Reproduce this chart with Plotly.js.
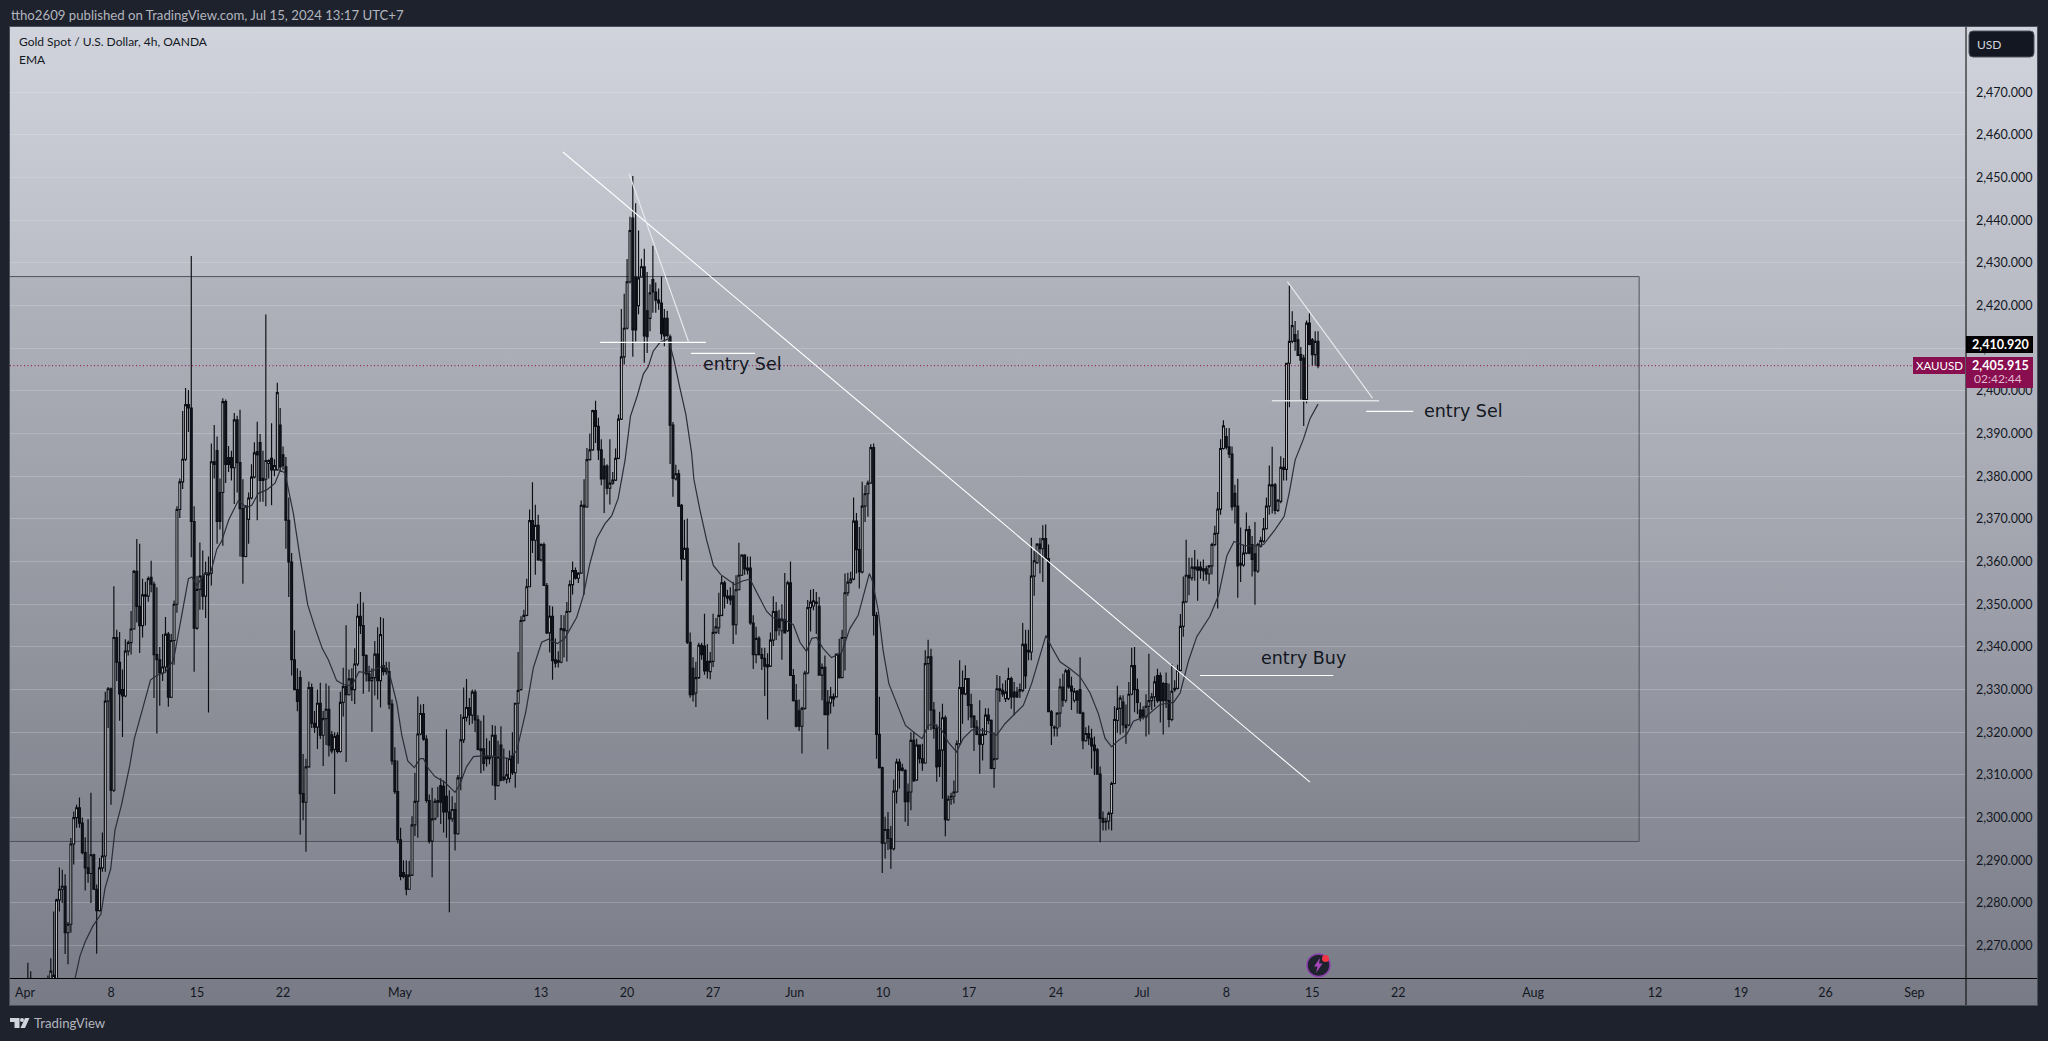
<!DOCTYPE html>
<html><head><meta charset="utf-8">
<script src="https://cdn.plot.ly/plotly-3.0.1.min.js"></script>
<style>
html,body{margin:0;padding:0;background:#1e222d;width:2048px;height:1041px;overflow:hidden}
#bg{position:absolute;left:10px;top:27px;width:2027px;height:978px;background:linear-gradient(180deg,#d1d4dc,#787b86);box-shadow:0 0 0 1px #4a4e5a}
#chart{position:absolute;left:0;top:0;width:2048px;height:1041px}
</style></head><body><div id="bg"></div><div id="chart"></div>
<script>
const opens=[2258,2257,2259,2256,2254,2257,2255,2257,2258,2260,
2260,2260,2280.7,2283.2,2283.9,2273,2275,2293.8,2300,2302.3,
2298.7,2291.8,2288.2,2286.9,2291.3,2283.2,2278.2,2288.2,2291,2327.3,
2330.2,2306.4,2342.2,2336.4,2330,2328.5,2339,2341,2344.2,2357.7,
2349.5,2345,2352.2,2351.9,2356.3,2354.7,2338.2,2337,2333.9,2335.3,
2343,2328.2,2341.5,2350,2372.2,2378.7,2384,2396.8,2396,2369.4,
2344.4,2353.5,2356.6,2351.9,2357.3,2357.3,2383.4,2386,2376.2,2376.2,
2397.5,2384.4,2384.4,2382,2393.2,2383.2,2372.4,2361.2,2369.9,2374.9,
2379.8,2385.8,2387.9,2379.5,2379.3,2383,2384.2,2381.5,2381.5,2392,
2385,2382.2,2369.7,2359.9,2337,2330,2332.8,2305.6,2303.6,2311.9,
2330.5,2322.1,2321.2,2326.8,2319.3,2323.2,2325.4,2319.4,2316,2319.3,
2315.5,2327,2330.7,2328.8,2332.5,2330,2336,2347.2,2345,2338,
2333.7,2332.1,2332.8,2338.3,2332.1,2335.6,2335,2334.2,2326.6,2313.3,
2306.1,2294.8,2287.1,2286.5,2283.2,2286.5,2298.3,2303.8,2319.6,2324.4,
2318.4,2304,2294.5,2299.7,2304,2307.5,2307.3,2305,2301.3,2299.7,
2301.9,2296.2,2309.3,2318.2,2323.5,2325.8,2324,2329.4,2322.9,2316.1,
2316.1,2314.5,2313.8,2314.2,2319.3,2307.5,2317,2309.5,2309,2309.2,
2314.5,2310.5,2326.8,2330,2346.2,2347.4,2354.1,2369.6,2365,2368.5,
2360.4,2364,2354.4,2343.3,2347.2,2337,2336.8,2336.4,2343.8,2343.8,
2348.3,2354.6,2357.9,2356.1,2357.3,2373.2,2372.8,2383.9,2386.2,2395.4,
2391.7,2386.2,2382.4,2382.4,2377.2,2378.4,2379.1,2384.2,2393.4,2408,
2414.7,2425.6,2440.5,2426.7,2420,2426.7,2429.1,2418.8,2417,2426.1,
2423.2,2421.3,2420.6,2417,2417,2412.7,2392,2379.4,2380.6,2373.2,
2360.6,2363.1,2341.1,2335,2329.2,2332.8,2340.4,2340.2,2336.6,2334.2,
2336.6,2343.4,2344.5,2347.4,2355,2351.9,2351.9,2351.9,2345.2,2353.4,
2356.8,2361.5,2358.5,2358.5,2345.6,2338.2,2342,2338.2,2337.3,2335.8,
2335.5,2341.6,2348.3,2346.4,2343.8,2346.4,2343.8,2355,2333.3,2327.4,
2325,2321.4,2325.6,2333.9,2349.2,2349.6,2350.5,2349.5,2333.4,2335.2,
2327.1,2326.9,2327.8,2328.3,2338.3,2332.8,2342.2,2352.7,2355.2,2355.9,
2369.5,2362.8,2357.6,2373,2375.9,2378.4,2386.7,2347.4,2319.5,2311.7,
2294,2297.2,2295.1,2292.7,2306.2,2313,2311.6,2311.1,2306,2306,
2318.1,2308.8,2317,2313.8,2312.8,2336.1,2337.7,2325.2,2320.9,2315.8,
2315.8,2323.4,2299.5,2304.3,2305,2306,2317.3,2330.5,2329,2332.6,
2326.5,2323.8,2321.2,2319.5,2317.2,2319.5,2324,2322.8,2311.5,2313.8,
2330.2,2329.8,2327.9,2327.9,2332.6,2329.4,2329.4,2329.6,2329.8,2340.6,
2339.2,2338.8,2356.6,2359.7,2364.1,2363,2365.4,2360.7,2324.8,2321,
2321,2324.5,2330.6,2327.5,2334.4,2330.8,2327.5,2329.6,2330,2324.5,
2318,2319.7,2318.6,2317,2315.9,2310.2,2299.8,2299,2299.2,2301,
2308,2322.8,2325.6,2327.1,2321.7,2321.7,2328.9,2335.6,2330,2325.2,
2325.2,2323.6,2326.1,2327.4,2328.3,2333.3,2333.3,2331.4,2331.4,2327.4,
2323,2330,2330.3,2334.5,2344.8,2350.6,2356.8,2356.2,2358.7,2358.7,
2358.7,2358.3,2358.3,2357.1,2359,2364,2366.6,2372.3,2386.5,2389.3,
2386.9,2385.2,2376,2373,2359.2,2359.2,2362,2367.5,2364,2361.8,
2357.8,2363.6,2364.8,2367.7,2373,2378,2378,2372,2374.1,2382.1,
2381.6,2406.5,2411.6,2413.2,2412,2408.5,2407.7,2398,2415.9,2412,
2408.5,2411.6];
const highs=[2261,2266,2264,2259,2260,2260,2261,2261,2263,2267,
2278,2281,2288.3,2287.8,2286.7,2275.5,2295.2,2301.4,2303,2304.7,
2300,2295.4,2299.6,2305.8,2291.5,2284.3,2290.5,2296.5,2329.5,2330.6,
2330.5,2354.2,2344,2343.5,2334.7,2341.8,2341.5,2348.4,2358,2365.3,
2364.2,2356,2355.3,2356.5,2360.2,2355.3,2354,2340,2343,2347,
2343.5,2343,2350.9,2373,2379.5,2395.3,2400.7,2400.2,2431.6,2373,
2356.6,2364.5,2362.6,2360,2361.2,2387.7,2392,2389.3,2379.5,2398.3,
2398,2387.1,2386,2394.8,2394.2,2395.6,2379.3,2373.2,2376.2,2382.8,
2388,2392.8,2389.9,2386,2417.9,2384,2392.4,2384,2401.9,2396,
2387,2384.5,2375,2362,2343.9,2335,2334.4,2314.9,2313.8,2331.9,
2331.4,2325,2330,2331.6,2325,2331.4,2330.9,2320.3,2320,2320,
2329.5,2335.1,2345.1,2334.7,2335,2339.7,2350.1,2352.9,2350.4,2338.3,
2335.6,2335,2341.4,2344.6,2347,2346.7,2336.5,2336.5,2327.7,2316.5,
2313.4,2297.6,2290,2290,2289.9,2300.3,2310.5,2328.4,2326.5,2326.6,
2319.3,2305.4,2307,2304.5,2307.2,2309.2,2308.7,2320.7,2306.4,2305,
2303.5,2310,2324.2,2330.5,2332.5,2328,2330,2330,2324,2322.7,
2324,2318.6,2318,2321.7,2321.5,2318,2321.4,2316.2,2314,2315.7,
2320,2326.8,2338.8,2347.2,2348.7,2356,2372.2,2378.6,2373.3,2371,
2364.3,2364.5,2355,2349.7,2349.5,2342,2339,2347.5,2347.4,2350.5,
2355.6,2360,2358.6,2357.5,2374.3,2379.3,2386.6,2390,2395.6,2397.7,
2393.7,2388.7,2384.2,2382.8,2388.7,2381,2386.5,2394.5,2419.2,2422.8,
2430.9,2440.8,2450.4,2444,2437.6,2431,2433.3,2427.9,2425,2434,
2425.4,2424,2426.8,2419.2,2418.8,2413.2,2392.7,2382.7,2381.5,2373.5,
2369.8,2370.1,2343.4,2337.6,2336.5,2341,2341,2347.8,2340.7,2338.8,
2347.8,2346.8,2352.7,2356.6,2355.5,2353.4,2354,2355.3,2356.8,2364.4,
2361.7,2361.7,2361.2,2361.2,2347.4,2344.7,2342.5,2339.8,2339.8,2338.5,
2343.4,2351.9,2350.5,2348.7,2350,2357.3,2355.5,2360,2334.8,2331.3,
2327.7,2326,2334.4,2351,2353.4,2353.6,2352.9,2351.7,2336.1,2338,
2329.9,2330.6,2329.1,2338.3,2341.9,2344,2357.2,2357.4,2357.6,2375,
2371.4,2368.1,2378.7,2377.9,2379,2387.5,2387.7,2348.2,2328.3,2311.9,
2300.2,2301.3,2298,2308.9,2313.8,2313.8,2312.6,2311.3,2308,2320,
2320,2318.5,2317,2317.3,2339.2,2341.7,2339.6,2327.1,2321.9,2324.8,
2326.7,2323.9,2305.2,2305.8,2308.7,2318.1,2336.9,2334.5,2335.7,2332.6,
2329,2324,2322.8,2327.5,2321,2325.6,2325.6,2323,2320,2333.4,
2333.2,2331.4,2332.2,2335.1,2333,2331.8,2330.6,2331.4,2345.6,2344,
2344,2365.6,2362.6,2364.3,2365.6,2368.5,2368.7,2364,2325.2,2321.6,
2324.7,2332.6,2333.7,2334.9,2334.9,2333,2330.4,2329.9,2337.6,2324.8,
2321.2,2321.6,2320.8,2319,2316.3,2312,2301.4,2300,2301.4,2308.4,
2326.1,2330.9,2328.7,2328.7,2326.5,2331.8,2339.8,2340,2332.6,2327,
2326.1,2328.9,2338.4,2329.2,2333.1,2334.9,2334,2331.8,2334,2331.4,
2336,2332.2,2335.8,2347.7,2356.5,2365.1,2360.9,2360.9,2362.7,2360.5,
2360,2360.5,2359,2359.2,2364.4,2368.4,2376.3,2388.7,2393.1,2391.3,
2391.3,2387,2378,2379.4,2368,2364,2371.5,2368.4,2366,2369.3,
2364.4,2365.8,2370.2,2375,2382.5,2386.9,2378.4,2374.6,2384.7,2384.3,
2406.5,2424.7,2418.7,2416.4,2414.2,2410.3,2408.5,2416.5,2418.2,2412.4,
2414,2414];
const lows=[2254,2255,2254,2252,2252,2253,2253,2255,2256,2258,
2258,2258,2278,2280,2268,2265.6,2273,2289,2297.6,2297.6,
2291.4,2282.9,2284.7,2280,2283,2268.1,2278,2287.3,2287.3,2321,
2303,2306,2332,2322.7,2318.9,2328.2,2338,2338.2,2344,2345.7,
2338.6,2342.2,2345,2350.6,2352.8,2328,2319.7,2326.2,2332,2334,
2326,2328,2335.8,2348,2370.2,2377,2383.6,2390.4,2361,2334.2,
2344,2348.7,2348.7,2346.8,2324.6,2354.4,2379.5,2364.2,2367.5,2363.7,
2378.4,2381,2379,2373.5,2376.2,2361.2,2354.8,2361,2364.2,2374.6,
2379.5,2369.7,2374,2374,2373,2379.5,2373.2,2380,2381.3,2381,
2381.5,2363,2351.7,2333.3,2330,2324.9,2296,2299.4,2292,2311.7,
2321,2319.8,2316.1,2318.4,2312.1,2317,2314.3,2315,2305.5,2315,
2315.2,2323.7,2313,2328.6,2327.3,2326.6,2335.5,2343,2329,2331.9,
2329.5,2320.1,2328.6,2327.7,2325.8,2333.3,2333.5,2325.4,2312.4,2305.5,
2293.9,2285.3,2285.8,2281.8,2283,2286.3,2295.7,2295.3,2319.3,2318,
2303.5,2293.9,2286,2299.4,2300,2298.5,2296.5,2295.3,2277.8,2299,
2292.3,2296,2306.4,2317.5,2322.5,2321.7,2322,2320,2315.8,2310.4,
2311,2312,2312.5,2307.5,2304.1,2307.3,2308.5,2308.5,2308,2308.2,
2310,2307,2312.6,2329.8,2345.9,2347.2,2354,2362,2356.9,2360.2,
2360,2354.3,2343,2338.7,2332.3,2335.2,2335.2,2336.2,2337.5,2336.6,
2348,2352.3,2355.8,2355,2357.2,2352.3,2372.6,2383.7,2386,2387.8,
2383.8,2377.9,2371.4,2375.7,2373.4,2378,2378.9,2384,2393.2,2406.2,
2414.4,2425.2,2408,2411.6,2418,2426.5,2406.6,2408.9,2414,2418.3,
2418.3,2419,2412,2410.5,2412.5,2382.9,2375.2,2379,2373,2355.5,
2360.4,2340.7,2328.1,2327.2,2325.9,2332.5,2337,2333.5,2332.6,2332.4,
2335.3,2343,2343,2347.2,2349,2350.1,2349.8,2340.7,2342.9,2353.2,
2356.6,2356.9,2357,2345.2,2334.8,2336.2,2338,2334.6,2328.5,2323,
2335.3,2340.2,2341.6,2342.7,2337,2343.3,2343.5,2333.3,2327.2,2321.2,
2320.3,2315,2325.3,2333.6,2343.6,2348.6,2343,2333.4,2327.5,2324.1,
2316,2324.4,2326,2328.3,2332.6,2332.8,2334.5,2352,2354.8,2355.6,
2357.2,2353.7,2357.2,2369.3,2370.5,2378.3,2342.7,2313.8,2311.5,2287,
2290.4,2292.4,2288,2292.3,2303.3,2306.8,2310.8,2299,2298,2301.7,
2308.4,2308.6,2312.7,2311,2312.6,2320.5,2320.5,2318.5,2308.4,2309.5,
2304.4,2295.6,2299.2,2303,2303.3,2305.8,2317,2322,2328.7,2322.8,
2321,2315.6,2319.3,2310.3,2313.4,2319.3,2321.9,2311.3,2307,2313.5,
2327.1,2328.3,2327.1,2327.5,2325.5,2324,2328,2328,2329.4,2330.2,
2336.9,2336.9,2352,2359.5,2357.2,2355.2,2360.5,2324.8,2317,2319,
2319,2321.2,2326,2327,2330.2,2325.2,2327,2324.4,2324.3,2316,
2317.8,2317,2311.5,2310,2310.2,2294.2,2297,2297,2297.2,2297,
2307.8,2319.9,2319.5,2319.9,2317.3,2321.4,2328.7,2324.7,2324.3,2322.6,
2323,2319,2319.5,2325.2,2325.9,2326.9,2322.3,2319.5,2325.7,2321.2,
2322.6,2329.5,2330,2334.3,2342.4,2350.3,2352.1,2355.5,2355.5,2350.8,
2356,2355.5,2355.5,2354.7,2357,2363.6,2349,2371,2386.3,2386.3,
2384.3,2372,2368.9,2351.5,2355.2,2358.8,2361.7,2361.7,2356.5,2349.9,
2357.3,2363.3,2364.5,2367.5,2371,2371.3,2371.1,2371.6,2373.7,2379,
2379,2396.2,2411.2,2409.4,2408.2,2398,2391.8,2397.1,2410.7,2405.9,
2405.9,2405.3];
const closes=[2256,2260,2256,2254,2257,2255,2258,2259,2261,2264,
2263,2280.7,2283.2,2283.9,2273,2275,2293.8,2300,2302.3,2298.7,
2291.8,2288.2,2286.9,2291.3,2283.2,2278.2,2288.2,2291,2327.3,2330.2,
2306.4,2342.2,2336.4,2329,2328.5,2339,2341,2344.2,2357.7,2349.5,
2345,2352.2,2351.9,2356,2354.7,2338.2,2337,2333.9,2335.3,2343,
2328.2,2341.5,2350,2372.2,2378.7,2384,2396.8,2396,2369.4,2344.4,
2353.5,2356.6,2351.9,2357.3,2356.9,2383.4,2382.8,2369.4,2369.4,2397.5,
2382.8,2382.8,2382,2393.2,2383.2,2372.4,2361.2,2373,2374.9,2379.8,
2385.5,2385,2379,2379,2383.7,2383.7,2381.5,2382.5,2399.6,2382.2,
2382.5,2369.7,2359.9,2337,2330,2327.2,2305.6,2303.6,2311.9,2330.5,
2322.1,2321.2,2326.8,2319.3,2323.2,2325.4,2317,2315.6,2319,2315.5,
2327,2330.7,2328.8,2332.5,2330,2336,2347.2,2345,2338,2333.7,
2332.1,2332.8,2338.3,2332.1,2342.9,2334.2,2334.2,2326.6,2313.3,2306.1,
2294.8,2286.2,2286.2,2283.2,2286.5,2298.3,2303.8,2319.6,2324.4,2318.4,
2304,2294.5,2299.7,2303.8,2303.6,2303.6,2301.3,2301.3,2299.7,2301.9,
2296.2,2309.3,2318.2,2323.5,2325.8,2324,2329.4,2322.9,2316,2315.7,
2312.7,2313.8,2314.2,2319.3,2307.5,2314.2,2308.7,2309,2310,2313.8,
2310.5,2326.8,2329.8,2346.2,2347.4,2354.1,2369.6,2365,2368.5,2360.4,
2364,2354.4,2343.3,2347.2,2336.8,2336.2,2336.4,2344.3,2344.2,2348.3,
2354.6,2357.9,2356.1,2357.3,2373.2,2372.8,2383.9,2386.2,2395.4,2391.7,
2386.2,2379.4,2379.4,2377.2,2378.4,2379.1,2384.2,2393.4,2408,2414.7,
2425.6,2437.6,2414.3,2414.3,2426.5,2429.1,2412.9,2412.7,2423,2423.2,
2421.3,2420.6,2413.4,2412.9,2413,2392,2379.5,2380.6,2373,2360.6,
2363.1,2341.1,2328.8,2328.8,2332.8,2340.4,2338.2,2334.4,2334.4,2336.6,
2343.4,2344.7,2347.4,2355,2351.9,2351.4,2351,2345.2,2353.4,2356.8,
2361.5,2358.3,2358,2345.6,2338.2,2342,2338.2,2337.3,2335.5,2335.3,
2341.6,2348.3,2343.8,2344.6,2346.4,2343.3,2355,2333.3,2327.4,2321.4,
2321.4,2325.6,2333.9,2349.2,2350.5,2350.8,2350.2,2333.4,2335.2,2324.1,
2324.1,2328.3,2328.3,2338.3,2332.8,2342.2,2352.7,2355.2,2355.9,2369.5,
2362.8,2357.6,2373,2375.9,2378.4,2386.7,2347.4,2319.5,2311.7,2294,
2297.2,2295.1,2292.7,2306.2,2313,2311.1,2311.1,2303.7,2303.7,2318.1,
2308.6,2317,2313.8,2312.8,2336.1,2337.7,2325.2,2320.9,2311.9,2312,
2323.4,2299.5,2304.3,2305,2306,2317.3,2330.5,2329,2332.6,2326.3,
2323.6,2321.2,2319.5,2317.2,2319.5,2324,2322.8,2311.5,2313.8,2330.2,
2329.8,2329,2329.4,2332.6,2328.3,2328.3,2328.3,2330,2340.6,2333.2,
2338.8,2356.6,2360.2,2364.1,2363,2365.4,2360.7,2324.8,2321.6,2321.2,
2324.5,2330.6,2327.5,2334.4,2330.6,2329.6,2329.6,2327.5,2324.5,2318,
2319.7,2318.6,2316.8,2315.7,2310.2,2299.8,2298.9,2299.1,2301,2308,
2323,2325.6,2328,2321.7,2321.1,2328.9,2335.6,2330,2327,2323.4,
2323.6,2326.1,2327.4,2328.3,2331.8,2327.4,2327.4,2327.4,2327.4,2323,
2329.6,2330.3,2334.5,2344.8,2350.6,2356.8,2356.2,2358.7,2358.3,2358,
2358,2357.8,2357.1,2359,2364,2366.6,2372.3,2386.5,2391.8,2386.8,
2385.2,2372.8,2373,2359,2359.6,2362,2367.5,2362,2360.5,2357.8,
2364,2364.9,2367.7,2373,2378,2377.7,2372,2374.4,2382.1,2381.6,
2406.5,2411.6,2415.3,2411.6,2408.3,2407.2,2398,2415.9,2410.9,2408.5,
2411.6,2405.9];

const emaX=[17.4,19.2,21,23.6,26.5,27.9,29.9,31.4,33.7,36.6,38.1,40.7,43.8,46,48.8,51.8,54.9,57,58.2,60,62.2,64.8,66.9,68.6,71,72.7,74.4,77.3,79.1,81.4,84.3,87.2,89,90.7,
93.6,95.9,98.6,101.2,103.7,105.8,108.7,111,114,116.5,118.6,121.2,125,127.3,129.7,131.4,133.5,135.8,137.8,139,140.7,143,146.5,150,151.7,154,156.4,160.5,165.1,168.6,171.5,174.7,177.3,180.2,182.6,
185.7,188.3,192.4,194.7,197,199.4,202.3,204.6,206.9,209.3,211.2,213.6,215.7,217.4,219.1,221.5,224.4,226.4,228.4,230.5,232.5,233.3,235.4,237.8,240.1,242.6,245.3,247.6,250.5,252.9,255.2,258.7,260.8,264.5,268,270.3,272.6,274.4,
276.1,278.4,281.3,284.8,287.7,290.6,294.5,295.5,297.6,299.3,301.3,304.6,307.1,309.8,312.9,315,316.8,319.7,322,324.9,327.2,330.2,332.5,336,338.9,341.8,345.3,348.2,351.1,353.6,356.1,358.1,361,364.5,368,
371.5,374.4,376.7,379,381.4,384.3,386.6,391.3,395.9,400.6,402.9,405.8,408.7,413.3,416.3,419.2,421.7,425,428.5,432,436,439.2,441,443,445.9,448.2,451];
const emaY=[2262.1,2267.6,2270.9,2274.5,2277.4,2283.4,2288,2297.1,2303.1,2312.4,2318.4,2324.9,2332.3,2333.3,2334,2336.9,2348.4,2356,2356.4,2354.4,2356.9,2357.5,2362.9,2364.8,2369.7,2371.9,2374.3,2372.7,2373.2,2376,2376.8,2378.4,2381.4,2380.8,
2371.3,2361.1,2349.9,2344.4,2339.6,2337,2332.1,2331.2,2330.9,2334.2,2334,2334.4,2335.6,2333.3,2326.8,2319.4,2313.3,2311.7,2313.8,2313.8,2311.5,2309.6,2308.2,2305.9,2307.8,2311.9,2314.3,2314.5,2314.3,2313.8,2315.6,2324.9,2335.1,2341.1,2341.8,
2340.8,2342,2346.9,2351.9,2359.5,2365.4,2368.9,2370.7,2374.8,2383.8,2394.1,2399,2404,2405.7,2409.3,2411.4,2412.2,2407.1,2400.8,2394.5,2385.5,2379.3,2372.1,2364.9,2359.1,2357,2355.7,2354.6,2355.5,2355.9,2352.8,2348.3,2346.9,2346.5,2345.2,2341.1,2338.9,2342,
2342.2,2339.6,2337.5,2338.6,2344.3,2347.4,2357.2,2355.6,2348.6,2339.2,2331.4,2325.9,2321.6,2320.1,2318.5,2321.6,2322,2320.6,2317.7,2315.4,2318.5,2320.5,2320.7,2320.1,2319.3,2322,2324.4,2326.3,2331.4,2336.9,2342.7,2340,2336.5,2334.9,2333,
2329.2,2324.3,2318.6,2316.6,2318.1,2319.5,2322.6,2323.9,2326.5,2327,2329.2,2336.7,2342.4,2347.2,2352.1,2361.4,2364.7,2363.8,2363.6,2364,2367.5,2370.6,2376.3,2383.8,2388.7,2393.5,2396.9];

const timeTickIndex=[0,30,60,90,130.8,180,210,240,268.5,299.3,329.3,359.6,389.6,419,449,479,526,568.5,598.5,628,659];
const timeTickText=["Apr","8","15","22","May","13","20","27","Jun","10","17","24","Jul","8","15","22","Aug","12","19","26","Sep"];
const priceTicks=[2270,2280,2290,2300,2310,2320,2330,2340,2350,2360,2370,2380,2390,2400,2410,2420,2430,2440,2450,2460,2470];

const boxBarEnd=563, boxPrices=[2294.4,2426.8];
const mainTrendBars=[187.6,448.2], mainTrendPrices=[2456,2308.3];
const topWedgeBars=[210.7,231.4], topWedgePrices=[2450.9,2411.6];
const topFloorBars=[200.6,237.5], topFloorPrice=2411.4;
const topEntryBars=[232.3,254.6], topEntryPrice=2408.8;
const lastWedgeBars=[440.3,470], lastWedgePrices=[2425.6,2398.3];
const lastFloorBars=[434.9,472.3], lastFloorPrice=2397.7;
const lastEntryBars=[467.8,484.2], lastEntryPrice=2395.2;
const buyEntryBars=[409.8,456.3], buyEntryPrice=2333.3;
const lastPrice=2405.915;
const notes=[{text:"entry Sel",bar:250.2,price:2406.4},{text:"entry Sel",bar:501.8,price:2395.4},{text:"entry Buy",bar:446.1,price:2337.3}];

const W=2048,H=1041,L=10,R=82,T=27,B=63;
const px=x=>(x-L)/(W-L-R), py=y=>1-(y-T)/(H-T-B);
const FONT='Lato, "Noto Sans", sans-serif';
const seg=(xs,ys,color,width)=>({type:'line',xref:'x',yref:'y',x0:xs[0],x1:xs[1],y0:ys[0],y1:ys[1],layer:'above',line:{color:color,width:width}});
const rectPx=(x0,y0,x1,y1,fill,layer)=>({type:'rect',xref:'paper',yref:'paper',x0:px(x0),x1:px(x1),y0:py(y0),y1:py(y1),fillcolor:fill,line:{width:0},layer:layer||'above'});
const linePx=(x0,y0,x1,y1,color)=>({type:'line',xref:'paper',yref:'paper',x0:px(x0),x1:px(x1),y0:py(y0),y1:py(y1),layer:'above',line:{color:color,width:1}});
const pathPx=(pts,fill,line,lw)=>({type:'path',xref:'paper',yref:'paper',layer:'above',fillcolor:fill,line:{color:line||fill,width:lw||0},
  path:'M'+pts.map(p=>px(p[0])+','+py(p[1])).join(' L')+' Z'});
const txtPx=(text,x,y,size,color,anchor,extra)=>Object.assign({xref:'paper',yref:'paper',x:px(x),y:py(y),text:text,showarrow:false,xanchor:anchor||'left',yanchor:'middle',font:{family:FONT,size:size,color:color}},extra||{});

const shapes=[
 {type:'rect',xref:'x',yref:'y',x0:-20,x1:boxBarEnd,y0:boxPrices[0],y1:boxPrices[1],layer:'below',fillcolor:'rgba(50,52,62,0.07)',line:{color:'#50535e',width:1}},
 {type:'line',xref:'paper',yref:'y',x0:0,x1:px(1913),y0:lastPrice,y1:lastPrice,layer:'above',line:{color:'#880e4f',width:1,dash:'1px,2.5px'}},
 seg(mainTrendBars,mainTrendPrices,'#ffffff',1.1),
 seg(topWedgeBars,topWedgePrices,'#e6e8ee',1.2),
 seg(topFloorBars,[topFloorPrice,topFloorPrice],'#ffffff',1.2),
 seg(topEntryBars,[topEntryPrice,topEntryPrice],'#ffffff',1.2),
 seg(lastWedgeBars,lastWedgePrices,'#e6e8ee',1.2),
 seg(lastFloorBars,[lastFloorPrice,lastFloorPrice],'#dfe1e6',1.5),
 seg(lastEntryBars,[lastEntryPrice,lastEntryPrice],'#ffffff',1.2),
 seg(buyEntryBars,[buyEntryPrice,buyEntryPrice],'#ffffff',1.2),
 linePx(10,978.5,2037,978.5,'#000000'),
 linePx(1966,27,1966,1005,'#000000'),
 rectPx(1913,357,1965,374,'#880e4f'),
 rectPx(1966,336,2033,353,'#000000'),
 rectPx(1966,357,2033,388,'#880e4f'),
 {type:'path',xref:'paper',yref:'paper',layer:'above',fillcolor:'#131722',line:{color:'#50535e',width:1},
  path:`M${px(1973)},${py(31)} L${px(2030)},${py(31)} Q${px(2034)},${py(31)} ${px(2034)},${py(35)} L${px(2034)},${py(53)} Q${px(2034)},${py(57)} ${px(2030)},${py(57)} L${px(1973)},${py(57)} Q${px(1969)},${py(57)} ${px(1969)},${py(53)} L${px(1969)},${py(35)} Q${px(1969)},${py(31)} ${px(1973)},${py(31)} Z`},
 {type:'circle',xref:'paper',yref:'paper',layer:'above',x0:px(1307),x1:px(1330),y0:py(954),y1:py(976.5),fillcolor:'#1e222d',line:{color:'#8e3fb0',width:1.5}},
 pathPx([[1320,958],[1314,966.5],[1317.5,966.5],[1316,973],[1322.5,963.5],[1319,963.5]],'#ab47bc'),
 {type:'circle',xref:'paper',yref:'paper',layer:'above',x0:px(1322),x1:px(1329),y0:py(955),y1:py(962),fillcolor:'#f23645',line:{width:0}},
 pathPx([[10,1018],[19.5,1018],[19.5,1028],[14.5,1028],[14.5,1022],[10,1022]],'#d1d4dc'),
 {type:'circle',xref:'paper',yref:'paper',layer:'above',x0:px(20),x1:px(24),y0:py(1018),y1:py(1022),fillcolor:'#d1d4dc',line:{width:0}},
 pathPx([[25,1018],[29.5,1018],[25,1028],[20.5,1028]],'#d1d4dc')
];

const annotations=[
 txtPx('ttho2609 published on TradingView.com, Jul 15, 2024 13:17 UTC+7',9,15,13.2,'#b2b5be'),
 txtPx('Gold Spot / U.S. Dollar, 4h, OANDA',16.5,41.5,12,'#131722'),
 txtPx('EMA',16.5,59,12,'#131722'),
 txtPx('USD',1975,44.5,12,'#d1d4dc'),
 txtPx('XAUUSD',1939,365.5,11.5,'#ffffff','center'),
 txtPx('2,410.920',2000,344.5,12.5,'#ffffff','center',{font:{family:FONT,size:12.5,color:'#ffffff',weight:700}}),
 txtPx('2,405.915',2000,365,12.5,'#ffffff','center',{font:{family:FONT,size:12.5,color:'#ffffff',weight:700}}),
 txtPx('02:42:44',1998,379,12,'#e3b9cf','center'),
 txtPx('TradingView',32,1023.5,13.2,'#b2b5be')
].concat(notes.map(n=>({xref:'x',yref:'y',x:n.bar,y:n.price,text:n.text,showarrow:false,xanchor:'center',yanchor:'middle',font:{family:'"DejaVu Sans", sans-serif',size:17.5,color:'#131722'}})));

const traces=[
 {type:'candlestick',x:opens.map((_,i)=>i),open:opens,high:highs,low:lows,close:closes,
  whiskerwidth:0,hoverinfo:'skip',showlegend:false,
  increasing:{line:{color:'#0b0d13',width:1.15},fillcolor:'#ffffff'},
  decreasing:{line:{color:'#0b0d13',width:1.15},fillcolor:'#131722'}},
 {type:'scatter',mode:'lines',x:emaX,y:emaY,line:{color:'#2a2e39',width:1.2},hoverinfo:'skip',showlegend:false}
];

const layout={
 width:W,height:H,margin:{l:L,r:R,t:T,b:B,pad:0},
 paper_bgcolor:'rgba(0,0,0,0)',plot_bgcolor:'rgba(0,0,0,0)',showlegend:false,boxgap:0.08,
 font:{family:FONT,size:12,color:'#131722'},
 xaxis:{range:[-5.23,677],tickmode:'array',tickvals:timeTickIndex,ticktext:timeTickText,showgrid:false,zeroline:false,showline:false,ticks:'',
  tickfont:{family:FONT,size:12.5,color:'#131722'},tickangle:0,rangeslider:{visible:false},ticklabelstandoff:5},
 yaxis:{range:[2262.4,2485.3],side:'right',tickmode:'array',tickvals:priceTicks,ticktext:priceTicks.map(v=>v.toLocaleString('en-US',{minimumFractionDigits:3})),
  showgrid:true,gridcolor:'rgba(240,243,250,0.22)',gridwidth:1,zeroline:false,showline:false,ticks:'',
  tickfont:{family:FONT,size:12.5,color:'#131722'},ticklabelstandoff:9},
 shapes:shapes,annotations:annotations,hovermode:false,dragmode:false
};
Plotly.newPlot('chart',traces,layout,{displayModeBar:false,staticPlot:true});
</script></body></html>
